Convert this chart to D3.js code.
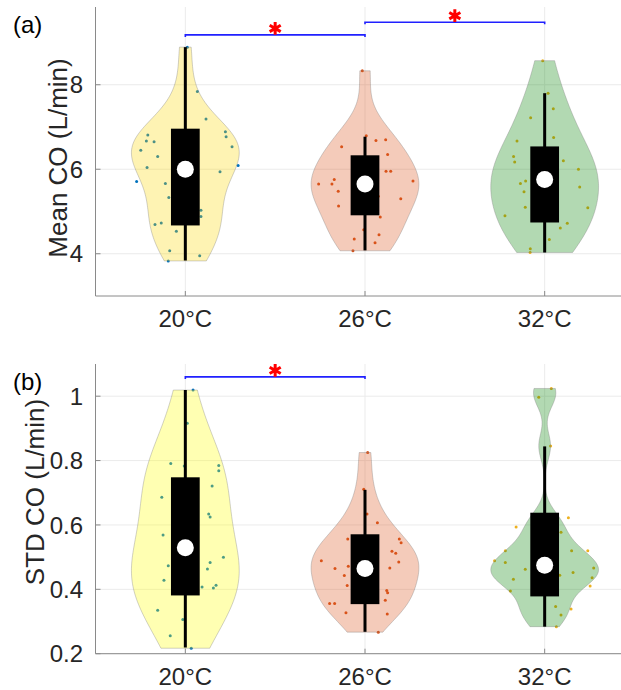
<!DOCTYPE html>
<html>
<head>
<meta charset="utf-8">
<script src="https://cdn.jsdelivr.net/npm/d3@7"></script>
<style>
  body { margin: 0; background: #fff; }
  svg { display: block; font-family: "Liberation Sans", Arial, sans-serif; }
</style>
</head>
<body>
<div id="chart"></div>
<script>
// temperature groups
const categories = ["20°C", "26°C", "32°C"];

// [jitter (x units), value]
const meanPoints = [
  [[0.011, 8.89], [0.067, 7.84], [0.115, 7.19], [0.223, 6.89], [0.227, 6.77], [-0.209, 6.81],
   [-0.217, 6.67], [-0.174, 6.65], [0.260, 6.53], [-0.248, 6.45], [-0.154, 6.30], [0.294, 6.09],
   [-0.213, 6.04], [0.193, 5.94], [-0.271, 5.71], [-0.111, 5.66], [-0.092, 5.33], [0.087, 5.03],
   [0.087, 4.88], [-0.134, 4.73], [-0.169, 4.69], [-0.050, 4.53], [-0.087, 4.07], [0.080, 3.95],
   [-0.095, 3.83]],
  [[-0.015, 8.33], [0.007, 6.79], [0.061, 6.68], [0.115, 6.70], [-0.130, 6.53], [0.126, 6.35],
   [0.117, 5.95], [0.143, 5.95], [-0.171, 5.76], [-0.258, 5.65], [-0.184, 5.65], [0.267, 5.72],
   [-0.149, 5.48], [0.074, 5.36], [0.199, 5.30], [-0.147, 5.13], [0.085, 4.87], [-0.007, 4.57],
   [0.078, 4.45], [-0.060, 4.35], [0.056, 4.26], [-0.067, 4.07]],
  [[-0.011, 8.57], [0.019, 7.80], [0.048, 7.43], [-0.078, 7.22], [0.050, 6.75], [-0.154, 6.67],
   [-0.173, 6.30], [-0.167, 6.17], [0.104, 6.20], [0.188, 6.00], [-0.106, 5.72], [-0.135, 5.66],
   [0.195, 5.58], [-0.115, 5.47], [-0.108, 5.10], [0.240, 5.09], [-0.221, 4.90], [0.126, 4.72],
   [0.087, 4.61], [0.026, 4.34], [-0.080, 4.12], [-0.081, 4.03]]
];
const stdPoints = [
  [[0.043, 1.019], [0.011, 0.916], [-0.081, 0.791], [-0.006, 0.783], [0.186, 0.785], [0.186, 0.768],
   [0.149, 0.721], [-0.131, 0.686], [0.130, 0.634], [0.138, 0.625], [-0.124, 0.569], [0.212, 0.500],
   [0.138, 0.483], [-0.095, 0.473], [0.123, 0.463], [-0.119, 0.428], [0.093, 0.407], [0.171, 0.413],
   [0.156, 0.404], [-0.154, 0.335], [-0.014, 0.306], [-0.084, 0.256], [0.033, 0.217]],
  [[0.015, 0.825], [-0.007, 0.711], [0.011, 0.634], [0.069, 0.607], [-0.096, 0.556], [0.191, 0.556],
   [0.201, 0.545], [0.150, 0.518], [0.171, 0.512], [-0.243, 0.489], [0.188, 0.485], [-0.093, 0.472],
   [-0.167, 0.465], [0.138, 0.466], [-0.115, 0.443], [-0.099, 0.412], [0.121, 0.396], [0.126, 0.389],
   [0.113, 0.366], [-0.197, 0.356], [-0.169, 0.356], [-0.106, 0.327], [0.124, 0.323], [0.074, 0.267]],
  [[0.037, 1.024], [-0.033, 0.997], [0.033, 0.845], [0.132, 0.622], [-0.159, 0.594], [0.091, 0.577],
   [-0.219, 0.520], [0.150, 0.520], [0.240, 0.520], [-0.279, 0.489], [-0.219, 0.483], [0.273, 0.466],
   [-0.108, 0.462], [0.158, 0.452], [0.084, 0.444], [0.264, 0.436], [-0.174, 0.431], [0.253, 0.410],
   [-0.191, 0.395], [0.061, 0.347], [0.147, 0.339], [0.091, 0.320], [0.065, 0.284]]
];

// [low whisker, q1, median, q3, high whisker]
const meanBoxes = [[3.84, 4.67, 6.00, 6.96, 8.89], [4.08, 4.91, 5.65, 6.33, 6.77], [4.03, 4.74, 5.76, 6.54, 7.80]];
const stdBoxes = [[0.219, 0.381, 0.529, 0.748, 1.019], [0.268, 0.354, 0.465, 0.571, 0.709], [0.284, 0.378, 0.475, 0.638, 0.844]];

// significance brackets: [from group, to group, bracket value]
const meanSig = [[1, 2, 9.18], [2, 3, 9.48]];
const stdSig = [[1, 2, 1.06]];

const meanTicks = [4, 6, 8];
const stdTicks = [0.2, 0.4, 0.6, 0.8, 1];

const violinColorsMean = ["#fcd602", "#d95319", "#008000"];
const violinColorsStd = ["#ffff00", "#d95319", "#008000"];
const pointColors = ["#0072bd", "#d95319", "#edb120"];

const W = 621, H = 690;
const svg = d3.select("#chart").append("svg").attr("width", W).attr("height", H);
svg.append("rect").attr("width", W).attr("height", H).attr("fill", "#fff");

const x = d3.scaleLinear().domain([0.5, 3.5]).range([95.5, 634.5]);

// MATLAB ksdensity style gaussian kde, truncated to data range
function kde(values, bwScale) {
  const n = values.length;
  const med = d3.median(values);
  const mad = d3.median(values, v => Math.abs(v - med));
  const sig = mad / 0.6745;
  const h = bwScale * sig * Math.pow(4 / (3 * n), 0.2);
  const lo = d3.min(values), hi = d3.max(values);
  const grid = d3.range(101).map(i => lo + (hi - lo) * i / 100);
  const dens = grid.map(g => d3.sum(values, v => Math.exp(-0.5 * ((g - v) / h) ** 2)));
  const m = d3.max(dens);
  return grid.map((g, i) => [g, dens[i] / m]);
}

function drawPanel(cfg) {
  const y = d3.scaleLinear().domain(cfg.domain).range([cfg.bottom, cfg.top]);
  const g = svg.append("g");

  // grid
  g.selectAll(".hg").data(cfg.ticks).join("line")
    .attr("x1", x(0.5)).attr("x2", W)
    .attr("y1", d => y(d)).attr("y2", d => y(d))
    .attr("stroke", "#ebebeb").attr("stroke-width", 1);
  g.selectAll(".vg").data([1, 2, 3]).join("line")
    .attr("x1", d => x(d)).attr("x2", d => x(d))
    .attr("y1", cfg.top).attr("y2", cfg.bottom)
    .attr("stroke", "#ebebeb").attr("stroke-width", 1);

  cfg.points.forEach((pts, i) => {
    const pos = i + 1;
    const vals = pts.map(p => p[1]);
    const prof = kde(vals, 0.9);
    const b = cfg.boxes[i];

    g.append("g").selectAll("circle").data(pts).join("circle")
      .attr("cx", p => x(pos + p[0])).attr("cy", p => y(p[1]))
      .attr("r", 1.5).attr("fill", pointColors[i]);

    const area = d3.area()
      .y(d => y(d[0]))
      .x0(d => x(pos - d[1] * 0.3))
      .x1(d => x(pos + d[1] * 0.3));
    g.append("path").attr("d", area(prof))
      .attr("fill", cfg.violinColors[i]).attr("fill-opacity", 0.3)
      .attr("stroke", "#7f7f7f").attr("stroke-opacity", 0.45).attr("stroke-width", 0.8);

    g.append("line")
      .attr("x1", x(pos)).attr("x2", x(pos))
      .attr("y1", y(b[0])).attr("y2", y(b[4]))
      .attr("stroke", "#000").attr("stroke-width", 3);
    g.append("rect")
      .attr("x", x(pos - 0.08)).attr("width", x(pos + 0.08) - x(pos - 0.08))
      .attr("y", y(b[3])).attr("height", y(b[1]) - y(b[3]))
      .attr("fill", "#000");
    g.append("circle")
      .attr("cx", x(pos)).attr("cy", y(b[2])).attr("r", 8.5).attr("fill", "#fff");
  });

  // axes
  g.append("line").attr("x1", x(0.5)).attr("x2", x(0.5)).attr("y1", cfg.top).attr("y2", cfg.bottom)
    .attr("stroke", "#8a8a8a");
  g.append("line").attr("x1", x(0.5)).attr("x2", W).attr("y1", cfg.bottom).attr("y2", cfg.bottom)
    .attr("stroke", "#8a8a8a");
  g.selectAll(".yt").data(cfg.ticks).join("line")
    .attr("x1", x(0.5)).attr("x2", x(0.5) + 5)
    .attr("y1", d => y(d)).attr("y2", d => y(d)).attr("stroke", "#8a8a8a");
  g.selectAll(".xt").data([1, 2, 3]).join("line")
    .attr("x1", d => x(d)).attr("x2", d => x(d))
    .attr("y1", cfg.bottom).attr("y2", cfg.bottom - 5).attr("stroke", "#8a8a8a");

  g.selectAll(".ytl").data(cfg.ticks).join("text")
    .attr("x", 83).attr("y", d => y(d)).attr("dy", "0.36em")
    .attr("text-anchor", "end").attr("font-size", 24).attr("fill", "#262626")
    .text(d => String(d));
  g.selectAll(".xtl").data(categories).join("text")
    .attr("x", (d, i) => x(i + 1)).attr("y", cfg.bottom + 31)
    .attr("text-anchor", "middle").attr("font-size", 24).attr("fill", "#262626")
    .text(d => d);

  g.append("text")
    .attr("transform", `translate(${cfg.labelX},${cfg.labelY}) rotate(-90)`)
    .attr("text-anchor", "middle").attr("font-size", 26).attr("fill", "#262626")
    .text(cfg.label);
  g.append("text").attr("x", 13).attr("y", cfg.top + 26)
    .attr("font-size", 24).attr("fill", "#000").text(cfg.tag);

  // significance
  cfg.sig.forEach(s => {
    const yy = y(s[2]);
    g.append("path")
      .attr("d", `M${x(s[0])},${yy + 2}V${yy}H${x(s[1])}V${yy + 2}`)
      .attr("fill", "none").attr("stroke", "#2020ff").attr("stroke-width", 1.6);
    g.append("path")
      .attr("transform", `translate(${(x(s[0]) + x(s[1])) / 2},${yy - 6.5})`)
      .attr("d", d3.symbol(d3.symbolAsterisk, 115)())
      .attr("fill", "none").attr("stroke", "#ff0000").attr("stroke-width", 3);
  });
}

drawPanel({
  top: 7, bottom: 296, domain: [3, 9.84], ticks: meanTicks,
  points: meanPoints, boxes: meanBoxes, sig: meanSig,
  violinColors: violinColorsMean, label: "Mean CO (L/min)", tag: "(a)",
  labelX: 67, labelY: 158
});
drawPanel({
  top: 364, bottom: 653.7, domain: [0.2, 1.1], ticks: stdTicks,
  points: stdPoints, boxes: stdBoxes, sig: stdSig,
  violinColors: violinColorsStd, label: "STD CO (L/min)", tag: "(b)",
  labelX: 44, labelY: 492
});
</script>
</body>
</html>
